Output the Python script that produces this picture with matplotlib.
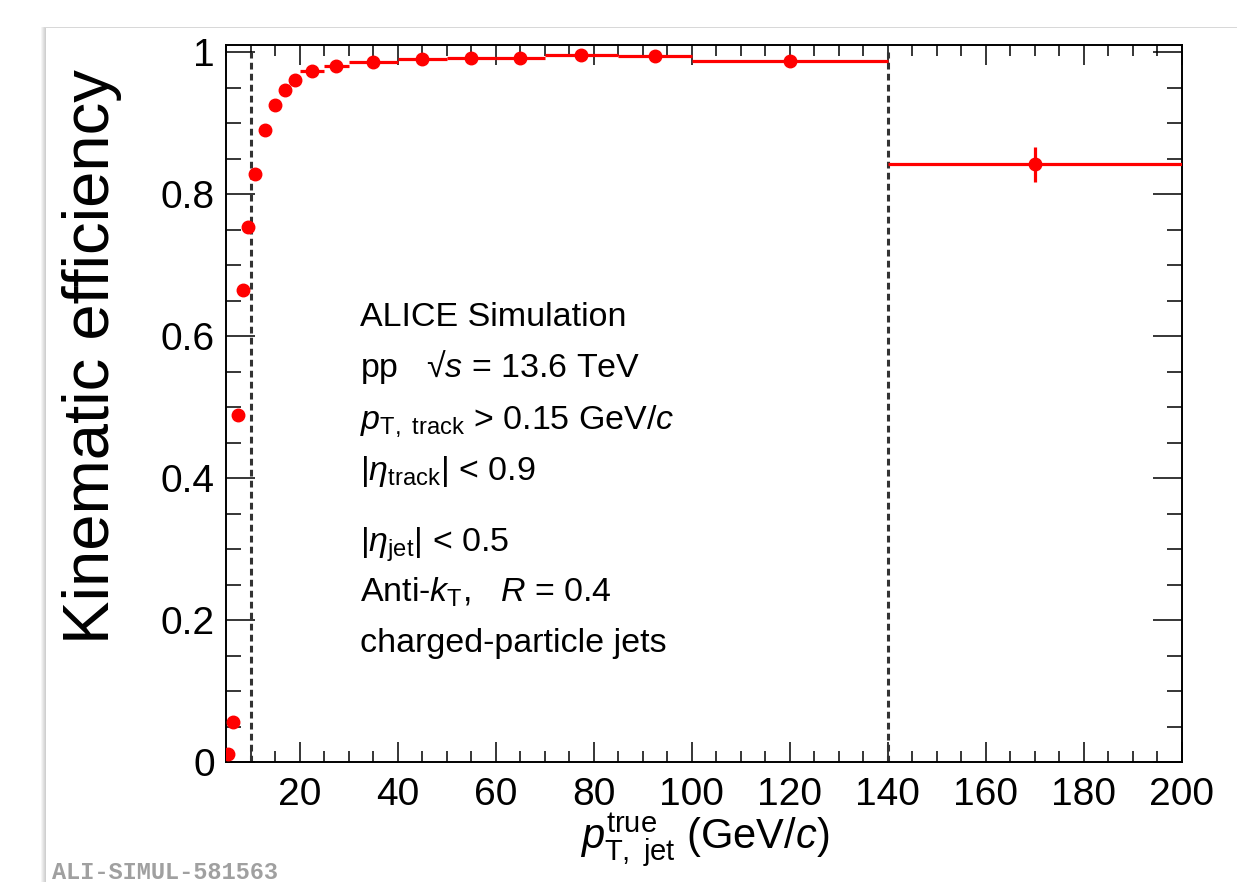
import numpy as np
import matplotlib.pyplot as plt
from matplotlib.patches import Rectangle
from matplotlib.ticker import MultipleLocator, FuncFormatter

# kinematic efficiency vs true jet pT
bin_edges = np.array([5, 6, 7, 8, 9, 10, 12, 14, 16, 18, 20, 25, 30, 40, 50,
                      60, 70, 85, 100, 140, 200])
efficiency = np.array([0.011, 0.056, 0.489, 0.665, 0.753, 0.828, 0.890, 0.926,
                       0.946, 0.960, 0.973, 0.981, 0.986, 0.990, 0.992, 0.992,
                       0.996, 0.994, 0.988, 0.842])
eff_err = np.array([0.002, 0.003, 0.004, 0.004, 0.004, 0.004, 0.003, 0.003,
                    0.003, 0.003, 0.002, 0.002, 0.002, 0.002, 0.002, 0.003,
                    0.003, 0.003, 0.004, 0.025])
cut_lines = [10, 140]

info_lines = [
    "ALICE Simulation",
    r"pp   √$s$ = 13.6 TeV",
    r"$p_{\mathrm{T,\ track}}$ > 0.15 GeV/$c$",
    r"|$\eta_{\mathrm{track}}$| < 0.9",
    r"|$\eta_{\mathrm{jet}}$| < 0.5",
    r"Anti-$k_{\mathrm{T}}$,   $R$ = 0.4",
    "charged-particle jets",
]
info_baselines = [326, 377, 429, 480, 552, 602, 652]  # pixel rows

plt.rcParams['font.family'] = ['Liberation Sans', 'DejaVu Sans']
plt.rcParams['mathtext.fontset'] = 'custom'
plt.rcParams['mathtext.rm'] = 'Liberation Sans'
plt.rcParams['mathtext.it'] = 'Liberation Sans:italic'
plt.rcParams['mathtext.bf'] = 'Liberation Sans:bold'

W, H = 1237, 882
fig = plt.figure(figsize=(W / 100, H / 100), dpi=100)

# canvas panel with a soft shadow
for d in range(1, 6):
    fig.patches.append(Rectangle(((46 - d) / W, 0), 1, 1 - (28 - d * 0.3) / H,
                                 transform=fig.transFigure, facecolor='k',
                                 alpha=0.04, edgecolor='none', zorder=-20))
fig.patches.append(Rectangle((46 / W, 0), 1, 1 - 28 / H, transform=fig.transFigure,
                             facecolor='white', edgecolor='none', zorder=-10))

ax = fig.add_axes([226 / W, 1 - 762 / H, (1181.5 - 226) / W, (762 - 45) / H])

centers = 0.5 * (bin_edges[:-1] + bin_edges[1:])
half_w = 0.5 * np.diff(bin_edges)
ax.errorbar(centers, efficiency, xerr=half_w, yerr=eff_err, fmt='o', color='red',
            ms=9, lw=2.3, capsize=0, zorder=3)

for c in cut_lines:
    ax.plot([c, c], [0, 1], color='#333333', lw=2.2, ls=(0, (2.2, 1.4)), zorder=2)

ax.set_xlim(5, 200)
ax.set_ylim(0, 1.01)
ax.xaxis.set_major_locator(MultipleLocator(20))
ax.xaxis.set_minor_locator(MultipleLocator(5))
ax.yaxis.set_major_locator(MultipleLocator(0.2))
ax.yaxis.set_minor_locator(MultipleLocator(0.05))
ax.yaxis.set_major_formatter(FuncFormatter(
    lambda v, p: '0' if abs(v) < 1e-9 else ('1' if abs(v - 1) < 1e-9 else f'{v:.1f}')))

ax.tick_params(which='both', direction='in', top=True, right=True, width=1.1)
ax.tick_params(axis='x', which='major', length=14.5, pad=11, labelsize=28)
ax.tick_params(axis='x', which='minor', length=8)
ax.tick_params(axis='y', which='major', length=21, pad=8, labelsize=28)
ax.tick_params(axis='y', which='minor', length=11)
for s in ax.spines.values():
    s.set_linewidth(1.4)

ax.set_xlabel(r"$p_{\mathrm{T,\ jet}}^{\mathrm{true}}$ (GeV/$c$)", fontsize=30, va='center')
ax.xaxis.set_label_coords((705 - 226) / 955.5, (762 - 840) / 717)
ax.set_ylabel("Kinematic efficiency", fontsize=47, va='center')
ax.yaxis.set_label_coords((92 - 226) / 955.5, (762 - 357) / 717)

for txt, b in zip(info_lines, info_baselines):
    ax.text((360 - 226) / 955.5, (762 - b) / 717, txt, transform=ax.transAxes,
            fontsize=24.5, va='baseline', ha='left')

fig.text(52 / W, 1 - 879 / H, "ALI-SIMUL-581563", family='Liberation Mono',
         weight='bold', color='#a0a0a0', fontsize=17, va='baseline', ha='left')

fig.savefig("out.png", dpi=100)
